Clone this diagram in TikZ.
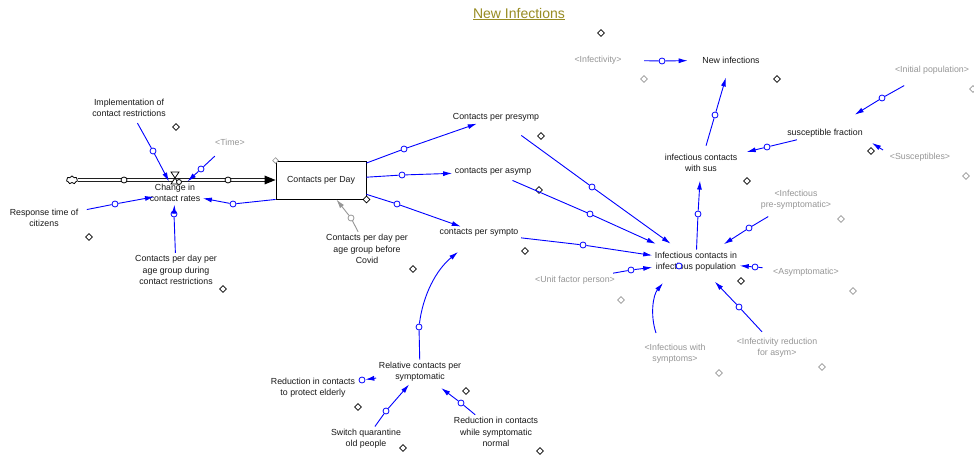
\documentclass[tikz,border=0pt]{standalone}
\usepackage{fontspec}
\setmainfont{Liberation Sans}
\usetikzlibrary{arrows.meta,shapes.geometric,shapes.symbols}
\definecolor{linkblue}{RGB}{0,0,255}
\definecolor{graytxt}{RGB}{150,150,150}
\definecolor{titlecol}{RGB}{152,140,35}
\definecolor{txt}{RGB}{25,25,25}
\tikzset{
  lbl/.style={font=\fontsize{8.8}{11.3}\selectfont, align=center, text=txt, inner sep=2.5pt},
  glbl/.style={lbl, text=graytxt},
  link/.style={draw=linkblue, line width=0.9pt},
  arr/.style={link, -{Latex[length=9pt,width=5pt]}},
  glink/.style={draw=graytxt, line width=0.9pt},
  garr/.style={glink, -{Latex[length=9pt,width=5pt]}},
  vc/.style={circle, draw=linkblue, fill=white, line width=0.8pt, minimum size=6pt, inner sep=0pt},
  gvc/.style={vc, draw=graytxt},
  pc/.style={circle, draw=black, fill=white, line width=0.8pt, minimum size=6pt, inner sep=0pt},
  dmd/.style={diamond, draw=black, fill=white, line width=0.7pt, minimum size=7pt, inner sep=0pt},
  gdmd/.style={dmd, draw=graytxt},
  pipe/.style={draw=black, line width=0.8pt, double=white, double distance=2.2pt}
}
\begin{document}
\begin{tikzpicture}[x=1pt,y=-1pt]
\useasboundingbox[fill=white] (0,0) rectangle (974,457);

% title
\node[font=\fontsize{14}{16}\selectfont, text=titlecol] (title) at (519,14) {\underline{New Infections}};

% comment diamonds
\node[dmd]  (d1)  at (601,33) {};
\node[gdmd] (d2)  at (644,79) {};
\node[dmd]  (d3)  at (777,79) {};
\node[dmd]  (d4)  at (176,127) {};
\node[dmd]  (d5)  at (89,237) {};
\node[dmd]  (d6)  at (223,289) {};
\node[dmd]  (d8)  at (541,136) {};
\node[dmd]  (d9)  at (539,190) {};
\node[dmd]  (d10) at (525,251) {};
\node[dmd]  (d11) at (413,269) {};
\node[dmd]  (d12) at (871,151) {};
\node[dmd]  (d13) at (747,181) {};
\node[gdmd] (d14) at (966,176) {};
\node[gdmd] (d15) at (973,89) {};
\node[gdmd] (d16) at (841,219) {};
\node[dmd]  (d17) at (741,281) {};
\node[gdmd] (d18) at (621,300) {};
\node[gdmd] (d19) at (719,373) {};
\node[gdmd] (d20) at (822,367) {};
\node[gdmd] (d21) at (853,291) {};
\node[dmd]  (d22) at (466,391) {};
\node[dmd]  (d23) at (358,407) {};
\node[dmd]  (d24) at (403,448) {};
\node[dmd]  (d25) at (540,451) {};

% variables
\node[lbl]  (impl)    at (129,108) {Implementation of\\contact restrictions};
\node[glbl] (time)    at (230,142) {<Time>};
\node[lbl]  (chg)     at (175,193) {Change in\\contact rates};
\node[lbl]  (resp)    at (44,218)  {Response time of\\citizens};
\node[lbl]  (cpdd)    at (176,270) {Contacts per day per\\age group during\\contact restrictions};
\node[lbl, draw=black, line width=0.9pt, minimum width=90pt, minimum height=38pt] (box) at (321,180) {Contacts per Day};
\node[lbl]  (cpdb)    at (367,249) {Contacts per day per\\age group before\\Covid};
\node[lbl]  (presymp) at (496,117) {Contacts per presymp};
\node[lbl]  (asymp)   at (493,172) {contacts per asymp};
\node[lbl]  (sympto)  at (479,233) {contacts per sympto};
\node[glbl] (infty)   at (598,60)  {<Infectivity>};
\node[lbl]  (newinf)  at (731,60)  {New infections};
\node[glbl] (initpop) at (932,70)  {<Initial population>};
\node[lbl]  (susfr)   at (825,133) {susceptible fraction};
\node[lbl]  (ics)     at (701,163) {infectious contacts\\with sus};
\node[glbl] (susc)    at (920,157) {<Susceptibles>};
\node[glbl] (ipres)   at (796,200) {<Infectious\\pre-symptomatic>};
\node[lbl]  (icip)    at (696,262) {Infectious contacts in\\infectious population};
\node[glbl] (asym)    at (806,272) {<Asymptomatic>};
\node[glbl] (unit)    at (575,280) {<Unit factor person>};
\node[glbl] (iws)     at (675,354) {<Infectious with\\symptoms>};
\node[glbl] (ira)     at (777,348) {<Infectivity reduction\\for asym>};
\node[lbl]  (rel)     at (420,372) {Relative contacts per\\symptomatic};
\node[lbl]  (redel)   at (313,388) {Reduction in contacts\\to protect elderly};
\node[lbl]  (swq)     at (366,439) {Switch quarantine\\old people};
\node[lbl]  (redsy)   at (496,432) {Reduction in contacts\\while symptomatic\\normal};

% box corner markers
\node[gdmd, minimum size=6pt] (d26) at (box.north west) {};
\node[dmd] (d7) at (box.south east) {};

% flow
\node[cloud, cloud puffs=7, draw=black, line width=0.8pt, minimum width=11pt, minimum height=8pt, inner sep=0pt] (cloud) at (72,180) {};
\coordinate (pipeend) at ([xshift=-9pt]box.west);
\draw[pipe] (cloud) -- (pipeend);
\fill[black] (box.west) -- ++(-11,-4.5) -- ++(0,9) -- cycle;
\node[pc] (p1) at (124,180) {};
\node[pc] (p2) at (228,180) {};
\draw[black, fill=white, line width=0.7pt] (171,172) -- (179,172) -- (171,184) -- (179,184) -- cycle;
\node[pc, minimum size=5pt] (valve) at (179,182) {};

% link control circles
\node[vc] (v1)  at (153,151) {};
\node[vc] (v2)  at (201,169) {};
\node[vc] (v3)  at (115,204) {};
\node[vc] (v4)  at (174,214) {};
\node[vc] (v5)  at (233,204) {};
\node[vc] (v6)  at (404,149) {};
\node[vc] (v7)  at (402,175) {};
\node[vc] (v8)  at (397,204) {};
\node[gvc] (v9) at (351,218) {};
\node[vc] (v10) at (419,327) {};
\node[vc] (v11) at (362,380) {};
\node[vc] (v12) at (386,411) {};
\node[vc] (v13) at (461,403) {};
\node[vc] (v14) at (662,61) {};
\node[vc] (v15) at (715,115) {};
\node[vc] (v16) at (882,98) {};
\node[vc] (v17) at (767,147) {};
\node[vc] (v19) at (698,214) {};
\node[vc] (v20) at (592,187) {};
\node[vc] (v21) at (590,214) {};
\node[vc] (v22) at (583,245) {};
\node[vc] (v23) at (631,270) {};
\node[vc] (v25) at (739,307) {};
\node[vc] (v26) at (755,267) {};
\node[vc] (v27) at (749,228) {};
\node[vc] (vx)  at (679,266) {};

% links
\draw[link, shorten <=4pt] (impl) -- (v1);   \draw[arr] (v1) -- (chg);
\draw[link, shorten <=12pt] (time) -- (v2);  \draw[arr] (v2) -- (chg);
\draw[link, shorten <=6pt] (resp) -- (v3);   \draw[arr, shorten >=-7pt] (v3) -- (chg);
\draw[link] (cpdd) -- (v4);                  \draw[arr] (v4) -- (chg);
\draw[link] (box.south west) -- (v5);        \draw[arr] (v5) -- (chg);
\draw[link] (box) -- (v6);                   \draw[arr] (v6) -- (presymp);
\draw[link] (box) -- (v7);                   \draw[arr] (v7) -- (asymp);
\draw[link] (box) -- (v8);                   \draw[arr] (v8) -- (sympto);
\draw[glink] (cpdb) -- (v9);                 \draw[garr] (v9) -- (box);
\draw[link] (rel) -- (v10);
\draw[arr] (v10) .. controls (423,295) and (436,270) .. ([shift={(-21,19)}]sympto.center);
\draw[arr] (rel) -- (v11);
\draw[link] (swq) -- (v12);                  \draw[arr] (v12) -- (rel);
\draw[link] (redsy) -- (v13);                \draw[arr, shorten >=6pt] (v13) -- (rel);
\draw[link, shorten <=20pt] (infty) -- (v14); \draw[arr, shorten >=12pt] (v14) -- (newinf);
\draw[link, shorten <=6pt] (ics) -- (v15);   \draw[arr, shorten >=12pt] (v15) -- (newinf);
\draw[link, shorten <=18pt] (initpop) -- (v16); \draw[arr, shorten >=22pt] (v16) -- (susfr);
\draw[link] (susfr) -- (v17);                \draw[arr, shorten >=7pt] (v17) -- (ics);
\coordinate (s18a) at (883,150);
\coordinate (s18b) at (872,143);
\draw[arr] (s18a) -- (s18b);
\draw[link] (icip) -- (v19);                 \draw[arr, shorten >=6pt] (v19) -- (ics);
\draw[link, shorten <=20pt] (presymp) -- (v20); \draw[arr, shorten >=10pt] (v20) -- (icip);
\draw[link, shorten <=5pt] (asymp) -- (v21); \draw[arr, shorten >=14pt] (v21) -- (icip);
\draw[link] (sympto) -- (v22);               \draw[arr] (v22) -- (icip);
\draw[link] (unit) -- (v23);                 \draw[arr] (v23) -- (icip);
\draw[arr] ([shift={(-19,-21)}]iws.center) .. controls (650,315) and (653,295) .. ([shift={(-33,21)}]icip.center);
\draw[link, shorten <=5pt] (ira) -- (v25);   \draw[arr, shorten >=10pt] (v25) -- (icip);
\draw[link, shorten <=8pt] (asym) -- (v26);  \draw[arr] (v26) -- (icip);
\draw[link, shorten <=8pt] (ipres) -- (v27); \draw[arr, shorten >=10pt] (v27) -- (icip);
\end{tikzpicture}
\end{document}
